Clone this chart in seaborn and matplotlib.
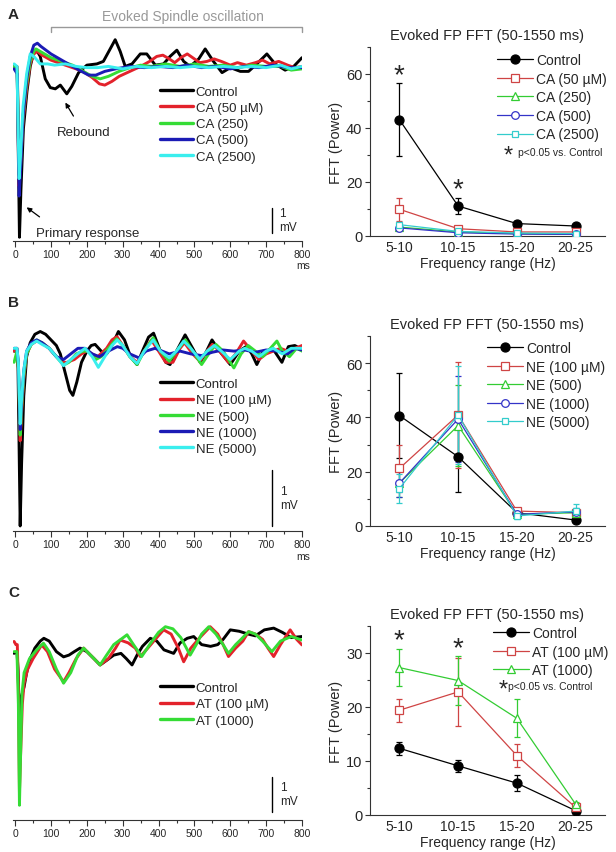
import numpy as np
import matplotlib
matplotlib.use('Agg')
import matplotlib.pyplot as plt
from matplotlib.ticker import MultipleLocator
import seaborn as sns

sns.set_style('ticks')
plt.rcParams['font.family'] = ['Liberation Sans', 'DejaVu Sans']

# ---------------------------------------------------------
# Data: evoked field potential traces (ms, mV rel. baseline)
# ---------------------------------------------------------
a_ctrl_t = [-3, 5, 6.5, 12, 16, 23, 33, 42, 51, 60, 70, 84, 98, 112, 126, 144, 158, 177, 200, 228, 246, 265,
            279, 293, 307, 326, 349, 367, 391, 414, 432, 451, 470, 488, 512, 530, 553, 577, 600, 628, 651, 674,
            702, 725, 753, 777, 800]
a_ctrl_v = [0, 0, -1.0, -6.85, -5.0, -2.5, -1.0, 0.0, 0.5, 0.65, 0.4, -0.5, -0.85, -0.9, -0.75, -1.1, -0.8,
            -0.25, 0.05, 0.1, 0.2, 0.7, 1.07, 0.6, 0.0, 0.1, 0.5, 0.5, 0.05, 0.1, 0.4, 0.65, 0.2, 0.0, 0.3, 0.7,
            0.2, -0.25, -0.05, -0.2, -0.2, 0.1, 0.5, 0.1, -0.15, 0.0, 0.35]
a_ca50_t = [-3, 6, 11, 15, 22, 32, 42, 52, 62, 75, 100, 130, 160, 190, 215, 235, 250, 270, 290, 320, 350, 375,
            395, 412, 430, 445, 462, 480, 500, 515, 535, 555, 575, 600, 620, 645, 670, 690, 710, 735, 760, 780, 800]
a_ca50_v = [0, -0.2, -4.8, -4.0, -2.2, -0.9, 0.1, 0.5, 0.6, 0.45, 0.25, 0.1, -0.05, -0.2, -0.45, -0.7, -0.75,
            -0.6, -0.4, -0.2, 0.0, 0.2, 0.4, 0.45, 0.3, 0.15, 0.35, 0.5, 0.3, 0.15, 0.2, 0.3, 0.2, 0.05, 0.15,
            0.05, 0.15, 0.25, 0.1, 0.2, 0.05, -0.05, 0.0]
a_ca250_t = [-3, 6, 11, 15, 22, 32, 42, 52, 58, 70, 100, 130, 160, 190, 215, 237, 260, 290, 320, 350, 380, 420,
             460, 500, 540, 580, 620, 660, 700, 740, 770, 800]
a_ca250_v = [0, -0.2, -4.3, -3.8, -2.0, -0.7, 0.2, 0.6, 0.7, 0.6, 0.35, 0.2, 0.05, -0.2, -0.4, -0.5, -0.4, -0.2,
             -0.05, 0.05, 0.0, 0.1, 0.0, 0.1, 0.0, 0.05, -0.05, 0.05, 0.0, 0.0, -0.15, -0.1]
a_ca500_t = [-3, 6, 11, 15, 22, 32, 42, 52, 62, 72, 100, 130, 160, 185, 205, 225, 250, 280, 320, 360, 400, 440,
             480, 520, 560, 600, 640, 680, 720, 760, 800]
a_ca500_v = [-0.1, -0.3, -5.2, -4.2, -2.0, -0.5, 0.4, 0.85, 0.93, 0.8, 0.5, 0.25, 0.0, -0.2, -0.35, -0.35, -0.2,
             -0.1, 0.0, -0.05, 0.0, -0.05, 0.05, -0.05, 0.0, -0.1, 0.0, -0.05, 0.05, -0.05, -0.05]
a_ca2500_t = [-3, 5, 11, 15, 22, 32, 42, 52, 70, 90, 110, 140, 170, 200, 230, 260, 300, 340, 380, 420, 460, 500,
              540, 580, 620, 660, 700, 740, 770, 800]
a_ca2500_v = [0.1, 0.0, -4.5, -3.6, -1.6, -0.3, 0.5, 0.4, 0.1, 0.1, 0.05, 0.1, 0.0, -0.05, -0.05, 0.0, -0.1, 0.0,
              -0.05, 0.0, -0.05, 0.0, -0.05, 0.0, -0.05, 0.0, -0.05, 0.05, -0.1, 0.0]

b_ctrl_t = [-3, 5, 8, 14, 18, 24, 32, 42, 55, 70, 85, 100, 115, 126, 140, 152, 161, 172, 185, 200, 212, 223, 240,
            255, 270, 288, 305, 322, 340, 355, 372, 386, 405, 420, 432, 450, 474, 495, 516, 530, 549, 570, 600, 625,
            646, 660, 674, 692, 720, 744, 762, 780, 800]
b_ctrl_v = [0, 0, -0.3, -3.12, -2.0, -0.8, -0.1, 0.15, 0.3, 0.35, 0.3, 0.2, 0.1, -0.05, -0.4, -0.7, -0.79, -0.55,
            -0.2, 0.0, 0.1, 0.12, 0.0, -0.05, 0.1, 0.35, 0.2, -0.1, -0.24, 0.0, 0.25, 0.32, 0.0, -0.2, -0.24, 0.0,
            0.29, 0.05, -0.2, -0.05, 0.2, 0.0, -0.24, 0.0, 0.09, -0.05, -0.24, 0.0, 0.03, -0.2, 0.08, 0.1, 0.03]
b_ne100_t = [-3, 5, 9, 14, 18, 24, 32, 45, 60, 75, 95, 115, 130, 145, 165, 185, 200, 215, 230, 255, 270, 284, 300,
             320, 340, 360, 380, 400, 420, 440, 460, 472, 495, 515, 535, 550, 570, 595, 615, 637, 660, 680, 700, 720,
             740, 760, 780, 800]
b_ne100_v = [0, 0.05, -0.3, -1.6, -1.1, -0.5, -0.05, 0.12, 0.18, 0.15, 0.05, -0.1, -0.2, -0.2, -0.15, -0.05, 0.0,
             -0.05, -0.1, 0.05, 0.2, 0.26, 0.1, -0.1, -0.2, 0.0, 0.2, 0.0, -0.2, -0.2, 0.05, 0.15, -0.05, -0.18, 0.0,
             0.12, 0.0, -0.2, -0.05, 0.18, 0.0, -0.15, -0.05, 0.0, 0.05, 0.0, 0.05, 0.1]
b_ne500_t = [-3, 5, 9, 14, 18, 24, 32, 45, 60, 75, 95, 115, 135, 150, 170, 190, 205, 225, 240, 260, 283, 300, 320,
             340, 360, 385, 405, 430, 450, 475, 495, 520, 545, 560, 580, 610, 630, 650, 670, 690, 705, 730, 745, 765,
             785, 800]
b_ne500_v = [-0.2, 0.0, -0.3, -1.5, -1.0, -0.45, -0.05, 0.12, 0.2, 0.15, 0.05, -0.1, -0.25, -0.2, -0.05, 0.0, 0.0,
             -0.15, -0.1, 0.05, 0.22, 0.1, -0.1, -0.24, 0.0, 0.24, 0.0, -0.18, 0.0, 0.2, 0.0, -0.24, 0.0, 0.12, 0.0,
             -0.3, -0.05, 0.1, 0.0, -0.1, 0.0, 0.18, 0.0, -0.1, 0.05, 0.0]
b_ne1000_t = [-3, 5, 9, 14, 18, 24, 32, 45, 60, 75, 95, 115, 135, 155, 175, 195, 215, 235, 260, 285, 300, 320, 345,
              365, 390, 410, 430, 460, 490, 520, 550, 580, 610, 640, 670, 700, 730, 760, 780, 800]
b_ne1000_v = [0.05, 0.05, -0.2, -1.4, -0.9, -0.35, 0.0, 0.15, 0.2, 0.15, 0.05, -0.1, -0.15, -0.05, 0.05, 0.05,
              -0.05, -0.1, 0.0, 0.08, 0.05, -0.05, -0.12, 0.0, 0.05, 0.0, -0.05, 0.0, -0.05, -0.08, -0.02, 0.02, 0.0,
              0.02, -0.02, 0.02, 0.0, -0.05, 0.05, 0.02]
b_ne5000_t = [-3, 5, 9, 14, 18, 24, 32, 45, 60, 75, 95, 115, 135, 155, 180, 195, 215, 232, 250, 270, 285, 300, 320,
              340, 360, 385, 405, 430, 450, 470, 490, 515, 535, 555, 575, 600, 625, 640, 660, 680, 700, 720, 745, 770,
              800]
b_ne5000_v = [0.05, 0.05, -0.2, -1.3, -0.85, -0.35, 0.0, 0.12, 0.18, 0.12, 0.05, -0.1, -0.26, -0.15, -0.02, 0.05,
              -0.1, -0.29, -0.1, 0.1, 0.2, 0.1, -0.1, -0.22, 0.0, 0.2, 0.0, -0.12, 0.0, 0.18, 0.05, -0.15, 0.0, 0.1,
              0.0, -0.15, 0.0, 0.05, 0.0, -0.1, 0.0, 0.05, -0.05, 0.05, 0.05]

c_ctrl_t = [-3, 5, 8, 12, 17, 25, 32, 42, 55, 70, 80, 95, 115, 135, 150, 165, 181, 200, 220, 237, 255, 275, 295,
            310, 326, 340, 355, 377, 395, 415, 442, 460, 480, 498, 520, 545, 565, 580, 600, 625, 650, 670, 695, 721,
            745, 770, 800]
c_ctrl_v = [-0.05, 0.0, -0.5, -1.9, -1.3, -1.0, -0.6, -0.2, 0.1, 0.3, 0.38, 0.3, 0.0, -0.15, -0.1, 0.0, 0.1, 0.0,
            -0.2, -0.38, -0.25, -0.1, -0.05, -0.2, -0.38, -0.1, 0.15, 0.38, 0.3, 0.05, -0.05, 0.25, 0.38, 0.43, 0.2,
            0.15, 0.2, 0.35, 0.62, 0.58, 0.5, 0.45, 0.62, 0.67, 0.55, 0.4, 0.43]
c_at100_t = [-3, 2, 6, 9, 12, 15, 20, 25, 35, 50, 74, 90, 110, 135, 150, 170, 191, 210, 237, 260, 280, 293, 315, 335,
             349, 370, 395, 414, 435, 455, 470, 490, 515, 544, 565, 580, 595, 615, 635, 651, 670, 690, 705, 721, 740,
             767, 785, 800]
c_at100_v = [0.29, 0.2, 0.2, -1.0, -4.0, -3.0, -1.5, -0.9, -0.5, -0.2, 0.19, 0.0, -0.5, -0.86, -0.6, -0.2, 0.1,
             -0.1, -0.38, -0.2, 0.1, 0.33, 0.25, 0.1, -0.14, 0.1, 0.4, 0.62, 0.5, 0.1, -0.29, 0.1, 0.4, 0.71, 0.5, 0.2,
             -0.14, 0.1, 0.3, 0.57, 0.5, 0.35, 0.1, -0.14, 0.2, 0.62, 0.35, 0.19]
c_at1000_t = [-3, 5, 9, 12, 15, 19, 25, 40, 60, 79, 95, 115, 135, 155, 175, 191, 215, 237, 255, 275, 312, 330, 353,
              375, 400, 419, 440, 462, 488, 505, 520, 540, 560, 580, 595, 615, 630, 651, 670, 690, 716, 740, 770, 800]
c_at1000_v = [0.0, 0.0, -1.5, -4.38, -3.0, -1.2, -0.6, -0.2, 0.05, 0.24, 0.0, -0.5, -0.9, -0.6, -0.1, 0.1, -0.15,
              -0.38, -0.1, 0.2, 0.48, 0.2, -0.14, 0.2, 0.55, 0.71, 0.65, 0.4, -0.1, 0.2, 0.5, 0.71, 0.5, 0.2, -0.05,
              0.2, 0.35, 0.57, 0.5, 0.3, 0.0, 0.3, 0.43, 0.33]

# ---------------------------------------------------------
# Data: FFT power per frequency band (mean, error)
# ---------------------------------------------------------
freq_labels = ['5-10', '10-15', '15-20', '20-25']

fa_ctrl = [43.1, 11.1, 4.6, 3.7]
fa_ctrl_err = [13.6, 3.0, 1.0, 0.8]
fa_ca50 = [9.9, 2.7, 1.5, 1.5]
fa_ca50_err = [4.3, 0.8, 0.4, 0.4]
fa_ca250 = [3.3, 1.5, 0.9, 0.6]
fa_ca250_err = [0.8, 0.4, 0.3, 0.2]
fa_ca500 = [3.0, 1.2, 0.7, 0.6]
fa_ca500_err = [0.7, 0.4, 0.2, 0.2]
fa_ca2500 = [4.2, 1.7, 1.1, 0.9]
fa_ca2500_err = [1.0, 0.5, 0.3, 0.2]

fb_ctrl = [40.7, 25.5, 4.9, 2.2]
fb_ctrl_err = [15.5, 13.0, 1.0, 0.7]
fb_ne100 = [21.2, 40.9, 5.5, 4.9]
fb_ne100_err = [8.6, 19.5, 1.0, 1.5]
fb_ne500 = [15.8, 37.0, 4.3, 4.9]
fb_ne500_err = [5.0, 15.0, 1.0, 1.5]
fb_ne1000 = [15.8, 39.4, 4.3, 5.2]
fb_ne1000_err = [5.0, 16.0, 1.0, 1.5]
fb_ne5000 = [13.8, 40.9, 3.7, 5.5]
fb_ne5000_err = [5.2, 18.0, 1.0, 2.5]

fc_ctrl = [12.35, 9.1, 5.9, 0.8]
fc_ctrl_err = [1.2, 1.1, 1.5, 0.3]
fc_at100 = [19.4, 22.8, 11.0, 1.4]
fc_at100_err = [2.1, 6.3, 2.2, 0.4]
fc_at1000 = [27.3, 24.9, 17.9, 2.0]
fc_at1000_err = [3.4, 4.6, 3.5, 0.5]

# colours
tr_cols = {'k': '#000000', 'r': '#e3222b', 'g': '#35dc35', 'b': '#1b1bb5', 'c': '#3aeeee'}
ff_cols = {'k': '#000000', 'r': '#cf4444', 'g': '#33cc33', 'b': '#3434c8', 'c': '#33cccc'}

W, H = 616, 853
fig = plt.figure(figsize=(W / 100, H / 100), dpi=100)


def px_axes(x0, y0, x1, y1):
    # pixel box (top-left origin) -> figure axes
    return fig.add_axes([x0 / W, 1 - y1 / H, (x1 - x0) / W, (y1 - y0) / H])


def draw_traces(ax, traces, ylim, leg_pos, bar_y, bar_lbl):
    for lbl, t, v, c in traces:
        sns.lineplot(x=t, y=v, ax=ax, color=tr_cols[c], lw=2.1, sort=False,
                     errorbar=None, label=lbl)
    ax.set_xlim(-6, 800)
    ax.set_ylim(*ylim)
    for s in ['left', 'top', 'right']:
        ax.spines[s].set_visible(False)
    ax.spines['bottom'].set_linewidth(0.8)
    ax.spines['bottom'].set_color('#333333')
    ax.set_yticks([])
    ax.set_xticks(range(0, 801, 100))
    ax.xaxis.set_minor_locator(MultipleLocator(50))
    ax.tick_params(axis='x', which='major', length=4, width=0.8, labelsize=7.5, pad=2, color='#333333')
    ax.tick_params(axis='x', which='minor', length=2, width=0.8, color='#333333')
    leg = ax.legend(loc='upper left', bbox_to_anchor=leg_pos, frameon=False, fontsize=9.5,
                    handlelength=2.5, handletextpad=0.2, labelspacing=0.3, borderpad=0, borderaxespad=0)
    for ln in leg.get_lines():
        ln.set_linewidth(2.4)
    # scale bar 1 mV
    ax.plot([716, 716], bar_y, color='black', lw=1.0, clip_on=False)
    ax.text(bar_lbl[0], bar_lbl[1], '1\nmV', fontsize=8.5, ha='left', va='center', linespacing=1.2)


def draw_fft(ax, series, ylim, ymajor, yminor, leg_pos, title):
    xpos = np.arange(len(freq_labels))
    handles, labels = [], []
    for lbl, m, e, c, mk, ms in series:
        col = ff_cols[c]
        face = col if c == 'k' else 'white'
        sns.lineplot(x=xpos, y=m, ax=ax, color=col, lw=0.9, marker=mk, markersize=ms,
                     markerfacecolor=face, markeredgecolor=col, markeredgewidth=0.9,
                     errorbar=None, sort=False, zorder=3)
        handles.append(ax.lines[-1])
        labels.append(lbl)
        ax.errorbar(xpos, m, yerr=e, fmt='none', ecolor=col, elinewidth=0.9, capsize=2,
                    capthick=0.9, zorder=2)
    ax.set_xlim(-0.5, 3.5)
    ax.set_ylim(*ylim)
    ax.set_xticks(xpos)
    ax.set_xticklabels(freq_labels)
    ax.yaxis.set_major_locator(MultipleLocator(ymajor))
    ax.yaxis.set_minor_locator(MultipleLocator(yminor))
    for s in ['top', 'right']:
        ax.spines[s].set_visible(False)
    for s in ['left', 'bottom']:
        ax.spines[s].set_linewidth(0.8)
        ax.spines[s].set_color('#333333')
    ax.tick_params(axis='y', which='major', length=3.5, width=0.8, labelsize=10.5, pad=2, color='#333333')
    ax.tick_params(axis='y', which='minor', length=2, width=0.8, color='#333333')
    ax.tick_params(axis='x', which='both', length=0, labelsize=10, pad=3)
    ax.set_xlabel('Frequency range (Hz)', fontsize=10, labelpad=1)
    ax.set_ylabel('FFT (Power)', fontsize=10.5, labelpad=2)
    ax.set_title(title, fontsize=10.5, pad=6)
    ax.legend(handles=handles, labels=labels, loc='upper left', bbox_to_anchor=leg_pos, frameon=False,
              fontsize=10, handlelength=2.6, handletextpad=0.2, labelspacing=0.33, borderpad=0,
              borderaxespad=0)


fft_title = 'Evoked FP FFT (50-1550 ms)'

# ---------------- Panel A ----------------
axA = px_axes(13, 20, 302, 242)
draw_traces(axA, [('Control', a_ctrl_t, a_ctrl_v, 'k'),
                  ('CA (50 µM)', a_ca50_t, a_ca50_v, 'r'),
                  ('CA (250)', a_ca250_t, a_ca250_v, 'g'),
                  ('CA (500)', a_ca500_t, a_ca500_v, 'b'),
                  ('CA (2500)', a_ca2500_t, a_ca2500_v, 'c')],
            (-7.0, 1.9), (0.509, 0.70), [-5.67, -6.67], (735, -6.15))
axA.plot([100, 100, 800, 800], [1.36, 1.56, 1.56, 1.36], color='#999999', lw=1.0, clip_on=False)
axA.text(467, 2.04, 'Evoked Spindle oscillation', color='#999999', fontsize=10, ha='center', va='center')
axA.annotate('Rebound', xy=(140, -1.45), xytext=(190, -2.65), fontsize=9.5, ha='center', va='center',
             arrowprops=dict(arrowstyle='-|>', color='black', lw=0.9, mutation_scale=7, shrinkA=6, shrinkB=0))
axA.annotate('Primary response', xy=(32, -5.65), xytext=(202, -6.67), fontsize=9.5, ha='center', va='center',
             arrowprops=dict(arrowstyle='-|>', color='black', lw=0.9, mutation_scale=7, shrinkA=8, shrinkB=0,
                             relpos=(0.18, 0.9)))
axA.text(803, -7.95, 'ms', fontsize=7.5, ha='center', va='center')

# ---------------- Panel B ----------------
axB = px_axes(13, 300, 302, 532)
draw_traces(axB, [('Control', b_ctrl_t, b_ctrl_v, 'k'),
                  ('NE (100 µM)', b_ne100_t, b_ne100_v, 'r'),
                  ('NE (500)', b_ne500_t, b_ne500_v, 'g'),
                  ('NE (1000)', b_ne1000_t, b_ne1000_v, 'b'),
                  ('NE (5000)', b_ne5000_t, b_ne5000_v, 'c')],
            (-3.21, 0.93), (0.509, 0.66), [-2.12, -3.12], (740, -2.62))
axB.text(803, -3.65, 'ms', fontsize=7.5, ha='center', va='center')

# ---------------- Panel C ----------------
axC = px_axes(13, 600, 302, 821)
draw_traces(axC, [('Control', c_ctrl_t, c_ctrl_v, 'k'),
                  ('AT (100 µM)', c_at100_t, c_at100_v, 'r'),
                  ('AT (1000)', c_at1000_t, c_at1000_v, 'g')],
            (-4.8, 1.5), (0.509, 0.625), [-3.57, -4.57], (740, -4.07))

for lbl, yy in [('A', 15), ('B', 303), ('C', 593)]:
    fig.text(8 / W, 1 - yy / H, lbl, fontsize=11, fontweight='bold', ha='left', va='center')

# ---------------- FFT panels ----------------
fA = px_axes(370, 48, 605, 237)
draw_fft(fA, [('Control', fa_ctrl, fa_ctrl_err, 'k', 'o', 6.5),
              ('CA (50 µM)', fa_ca50, fa_ca50_err, 'r', 's', 5.5),
              ('CA (250)', fa_ca250, fa_ca250_err, 'g', '^', 6),
              ('CA (500)', fa_ca500, fa_ca500_err, 'b', 'o', 5.5),
              ('CA (2500)', fa_ca2500, fa_ca2500_err, 'c', 's', 5.0)],
         (0, 70), 20, 10, (0.54, 0.968), fft_title)
fA.text(0, 59.6, '*', fontsize=20, ha='center', va='center')
fA.text(1, 17.2, '*', fontsize=20, ha='center', va='center')
fA.text(0.587, 0.425, '*', fontsize=17, ha='center', va='center', transform=fA.transAxes)
fA.text(0.63, 0.444, 'p<0.05 vs. Control', fontsize=7.5, ha='left', va='center', transform=fA.transAxes)

fB = px_axes(370, 337, 605, 527)
draw_fft(fB, [('Control', fb_ctrl, fb_ctrl_err, 'k', 'o', 6.5),
              ('NE (100 µM)', fb_ne100, fb_ne100_err, 'r', 's', 5.5),
              ('NE (500)', fb_ne500, fb_ne500_err, 'g', '^', 6),
              ('NE (1000)', fb_ne1000, fb_ne1000_err, 'b', 'o', 5.5),
              ('NE (5000)', fb_ne5000, fb_ne5000_err, 'c', 's', 5.0)],
         (0, 70), 20, 10, (0.498, 0.974), fft_title)

fC = px_axes(370, 627, 605, 816)
draw_fft(fC, [('Control', fc_ctrl, fc_ctrl_err, 'k', 'o', 6.5),
              ('AT (100 µM)', fc_at100, fc_at100_err, 'r', 's', 5.5),
              ('AT (1000)', fc_at1000, fc_at1000_err, 'g', '^', 6)],
         (0, 35), 10, 5, (0.523, 1.0), fft_title)
fC.text(0, 32.3, '*', fontsize=20, ha='center', va='center')
fC.text(1, 30.9, '*', fontsize=20, ha='center', va='center')
fC.text(0.566, 0.665, '*', fontsize=17, ha='center', va='center', transform=fC.transAxes)
fC.text(0.589, 0.683, 'p<0.05 vs. Control', fontsize=7.5, ha='left', va='center', transform=fC.transAxes)

fig.savefig('out.png', dpi=100)
